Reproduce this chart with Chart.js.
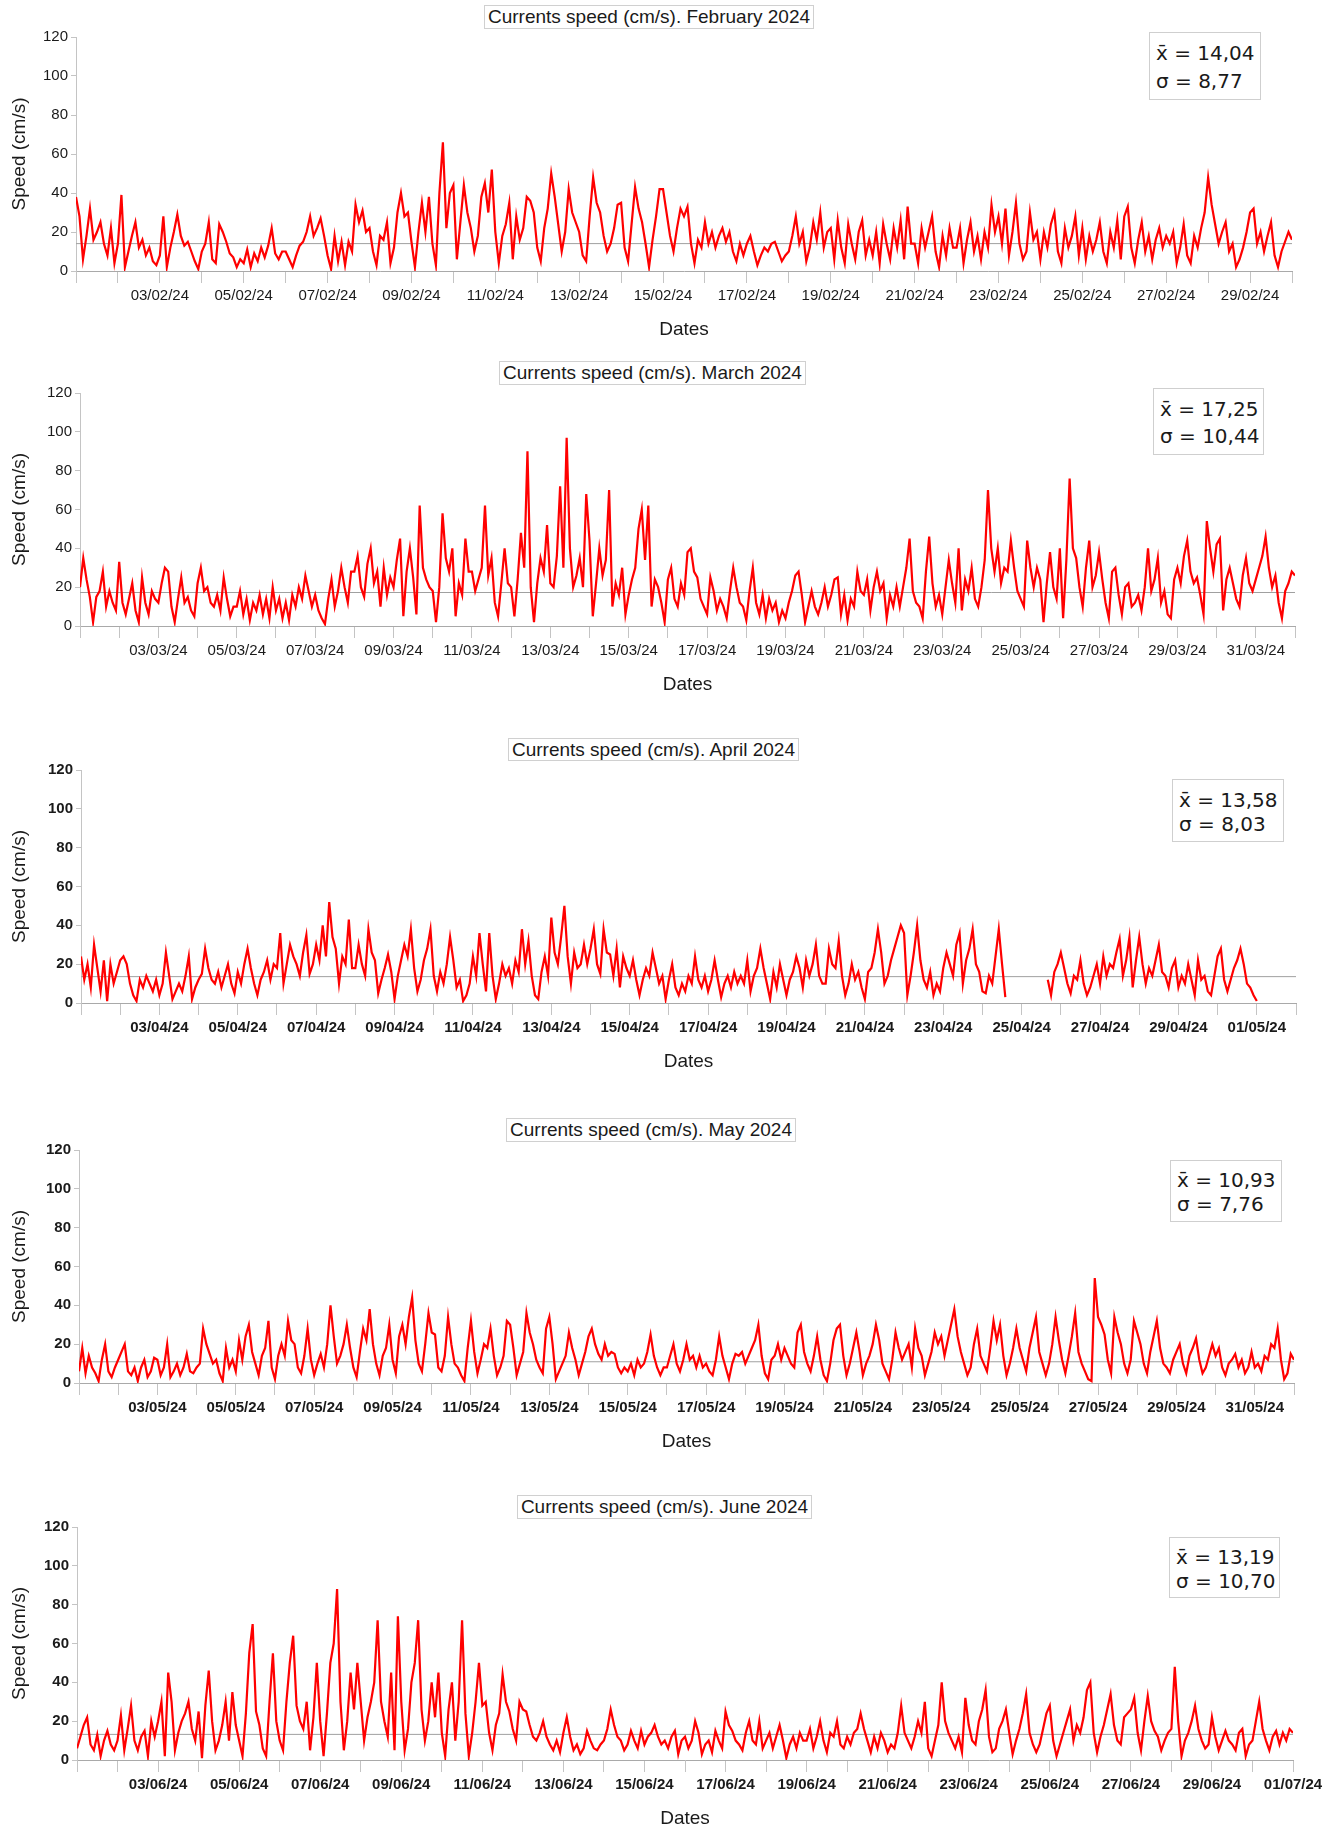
<!DOCTYPE html>
<html><head><meta charset="utf-8">
<script src="https://cdn.jsdelivr.net/npm/chart.js@4.4.1/dist/chart.umd.min.js"></script>
<style>
html,body{margin:0;padding:0;background:#fff;}
#wrap{position:relative;width:1339px;height:1829px;overflow:hidden;background:#fff;}
#wrap canvas{position:absolute;left:0;}
.ttl{position:absolute;box-sizing:border-box;border:1px solid #d0d0d0;font-family:"Liberation Sans",Arial,sans-serif;font-size:19px;color:#1a1a1a;text-align:center;white-space:nowrap;background:#fff;}
.stat{position:absolute;box-sizing:border-box;border:1px solid #cfcfcf;font-family:"DejaVu Sans",Verdana,sans-serif;font-size:20px;color:#1a1a1a;padding-left:6px;white-space:nowrap;background:#fff;}
</style></head><body><div id="wrap"></div>
<script>
// ---- Data: current speed (cm/s), one value every 2 hours (12 per day) ----
const febSpeed = [
38,28,6,18,32,16,20,25,14,8,22,4, 14,39,2,10,18,25,12,16,8,12,5,3, 8,28,2,12,20,29,18,13,15,10,5,1,
10,14,25,6,4,24,20,15,9,7,2,6, 4,11,2,9,5,12,7,13,22,9,6,10, 10,6,2,8,13,15,20,28,18,22,27,18,
8,1,18,5,15,3,15,10,34,25,31,20, 22,10,3,18,16,25,4,12,30,40,28,30, 15,2,20,35,20,38,14,3,40,66,22,40,
44,6,25,44,30,22,10,18,38,45,30,52, 20,4,18,24,35,6,28,16,22,38,36,30, 12,5,22,32,50,38,24,10,20,42,30,25,
20,8,5,28,48,35,30,18,10,14,22,34, 35,12,5,24,43,32,25,14,2,16,28,42, 42,30,18,10,22,32,28,33,14,4,16,12,
25,14,20,12,18,22,15,20,10,5,14,8, 14,18,10,3,8,12,10,14,15,10,5,8, 10,18,28,14,20,5,12,25,16,30,12,20,
22,6,26,12,4,24,14,6,20,26,8,16, 8,20,4,24,14,6,22,12,26,6,33,14, 14,4,22,12,20,28,10,2,18,8,22,12,
12,22,4,16,25,10,18,6,20,12,34,20, 28,14,32,8,20,35,14,6,10,30,16,20, 6,20,12,24,30,10,4,22,12,18,28,8,
22,6,18,10,16,25,10,4,20,12,26,6, 28,33,12,4,16,25,10,18,6,16,22,12, 18,14,20,4,12,24,8,4,18,12,22,30,
48,34,24,14,20,25,10,14,2,6,12,20, 30,32,14,20,10,18,25,8,2,10,15,20, 16];
const marSpeed = [
20,35,24,15,2,15,18,28,10,18,12,8, 33,12,6,14,22,8,2,25,12,6,18,14, 12,22,30,28,10,2,14,25,12,15,8,5,
22,30,18,20,12,10,16,8,25,14,5,10, 10,18,6,14,3,12,8,16,6,14,4,20, 8,14,4,12,3,16,10,20,14,26,18,10,
16,8,4,1,14,24,10,18,30,20,12,28, 28,36,20,15,32,40,22,28,10,30,16,25, 20,34,45,5,28,40,25,6,62,30,24,20,
18,2,20,58,35,28,40,5,22,16,45,28, 28,18,24,30,62,26,35,12,5,22,40,22, 20,5,24,48,30,90,20,2,22,35,28,52,
22,20,36,72,30,97,40,20,26,35,20,68, 44,5,22,40,26,34,70,10,22,16,30,6, 16,24,30,50,60,34,62,10,24,20,12,2,
24,30,14,10,22,16,38,40,28,25,14,10, 6,25,18,8,14,10,4,18,30,20,12,10, 3,18,30,12,6,16,4,14,8,12,2,8,
4,12,18,26,28,16,2,10,18,10,6,12, 20,10,16,24,25,6,16,3,14,10,28,18, 16,24,8,20,28,18,22,4,16,10,20,10,
20,30,45,18,12,10,4,28,46,22,10,16, 6,20,34,22,12,40,8,24,18,30,14,10, 20,34,70,40,28,40,22,30,28,44,30,18,
14,10,44,30,20,30,24,2,22,38,20,14, 40,4,34,76,40,35,20,10,30,44,20,26, 38,24,12,4,28,30,16,6,20,22,10,12,
16,8,20,40,18,24,35,12,18,6,4,24, 30,22,36,44,28,22,25,16,6,54,40,28, 42,45,8,24,30,22,14,10,26,35,22,18,
24,30,36,46,30,20,26,12,4,18,22,28, 26];
const aprSpeed = [
24,12,20,8,30,18,6,22,1,20,10,16, 22,24,20,10,4,1,12,8,14,10,6,12, 4,10,26,14,2,6,10,6,14,24,2,8,
12,15,28,18,12,10,16,8,14,20,10,5, 16,10,20,28,18,10,4,12,16,22,12,20, 18,36,10,20,30,24,20,14,26,35,15,20,
30,22,40,24,52,34,28,10,24,20,43,18, 18,30,20,14,38,26,22,5,12,18,25,16, 2,14,22,30,24,38,18,6,12,22,28,38,
14,6,16,10,20,34,22,8,12,1,4,10, 24,14,36,20,6,36,14,2,10,20,14,18, 10,22,16,38,20,32,14,4,2,16,24,14,
44,26,20,34,50,24,10,26,18,20,30,20, 28,38,20,15,38,26,25,14,28,8,24,18, 14,22,12,4,12,18,14,26,18,10,14,2,
12,20,8,4,10,6,14,10,24,12,8,14, 6,12,22,12,3,10,14,8,16,10,14,10, 22,6,14,18,28,18,10,2,16,8,20,12,
4,12,16,24,18,8,22,14,20,30,14,10, 10,28,20,18,32,14,4,10,20,12,16,8, 2,16,18,26,38,26,10,14,22,28,34,40,
36,4,14,26,40,22,12,8,16,4,10,6, 18,26,20,14,30,36,10,22,28,38,20,16, 6,5,14,10,24,38,20,3,null,null,null,null,
null,null,null,null,null,null,null,null,12,4,16,20, 26,18,10,5,14,12,22,10,4,8,14,20, 10,24,14,20,18,26,33,14,22,34,8,22,
34,20,10,18,14,22,30,16,14,8,18,22, 8,14,10,20,12,4,22,12,14,6,4,14, 24,28,12,6,12,18,22,28,20,10,8,4,
1];
const maySpeed = [
6,18,5,14,8,5,1,12,20,6,3,8, 12,16,20,6,4,8,1,8,12,3,6,13, 12,4,8,20,3,6,10,4,8,15,6,5,
8,10,28,20,15,10,12,5,1,18,8,12, 6,22,12,24,30,16,10,4,14,18,32,8, 2,14,20,14,32,22,20,8,5,14,28,12,
4,10,15,8,20,40,24,10,14,20,30,18, 8,3,16,28,22,38,20,10,4,14,18,30, 12,5,24,30,20,34,44,22,10,6,20,36,
26,25,8,6,14,34,20,10,8,4,1,18, 32,16,5,12,20,18,28,14,4,8,14,32, 30,18,4,10,16,36,26,20,12,8,5,28,
34,20,2,6,10,14,26,18,12,4,10,16, 24,28,20,15,12,20,14,16,15,8,5,8, 6,10,4,12,8,10,16,25,14,8,4,8,
8,14,20,10,6,12,20,12,14,8,14,8, 10,6,4,12,24,14,8,2,10,15,14,16, 10,14,18,22,30,14,5,2,12,14,20,12,
18,14,10,8,26,30,16,10,6,14,24,12, 4,1,10,22,28,30,14,4,10,18,26,16, 4,10,14,20,30,22,10,6,2,12,26,18,
12,16,20,8,28,18,14,4,10,16,26,20, 24,14,22,30,38,24,16,10,4,8,20,28, 14,10,6,18,32,22,30,14,4,10,18,28,
18,12,6,18,26,34,16,10,4,10,20,34, 22,12,5,14,24,36,16,10,6,2,1,54, 34,30,25,12,5,34,26,20,10,5,12,32,
26,20,10,5,16,24,32,18,10,8,5,12, 16,20,10,5,14,18,23,12,5,8,14,20, 14,18,8,4,10,12,15,8,12,5,8,16,
8,10,6,14,12,20,18,28,12,2,5,15, 12];
const junSpeed = [
6,12,18,22,8,5,13,2,10,15,8,5, 10,23,5,16,28,10,5,12,15,2,20,12, 20,30,2,45,30,5,14,20,24,30,16,10,
25,1,28,46,20,5,10,18,30,10,35,18, 10,2,24,55,70,25,18,6,2,30,55,20, 10,5,30,50,64,28,20,16,30,5,22,50,
20,2,24,50,60,88,30,5,20,45,26,50, 30,10,22,30,40,72,30,20,12,45,5,74, 30,5,16,40,50,72,26,10,20,40,22,45,
14,2,26,40,10,30,72,24,2,14,30,50, 28,30,14,5,18,24,44,30,25,16,10,30, 26,25,18,12,10,14,20,12,8,5,10,4,
14,22,12,5,8,3,6,15,10,6,5,8, 10,16,26,18,12,10,5,8,15,10,6,15, 8,12,14,18,12,8,10,6,12,15,3,10,
12,6,10,20,14,3,8,10,4,15,10,6, 25,18,15,10,8,5,14,20,10,8,20,6, 10,14,6,12,18,10,1,8,12,6,14,10,
10,16,6,12,20,10,4,14,12,20,8,6, 12,8,14,16,24,16,10,4,12,6,14,10, 4,8,6,14,28,14,10,6,12,20,14,30,
6,2,10,18,40,20,14,10,6,12,4,32, 18,10,8,20,26,36,12,4,6,16,20,26, 14,3,10,16,24,34,14,8,4,8,16,24,
28,10,2,8,14,20,26,10,18,14,22,36, 40,14,4,12,18,26,34,18,10,8,22,24, 26,32,14,5,20,33,20,15,12,5,10,14,
16,48,20,2,10,14,20,28,16,10,6,8, 22,12,5,10,15,10,8,5,14,16,2,8, 10,20,30,16,10,5,12,15,8,14,10,16,
14];

// ---- Tick labels (every second day, starting on day 3) ----
const febTicks = ['03/02/24','05/02/24','07/02/24','09/02/24','11/02/24','13/02/24','15/02/24','17/02/24','19/02/24','21/02/24','23/02/24','25/02/24','27/02/24','29/02/24'];
const marTicks = ['03/03/24','05/03/24','07/03/24','09/03/24','11/03/24','13/03/24','15/03/24','17/03/24','19/03/24','21/03/24','23/03/24','25/03/24','27/03/24','29/03/24','31/03/24'];
const aprTicks = ['03/04/24','05/04/24','07/04/24','09/04/24','11/04/24','13/04/24','15/04/24','17/04/24','19/04/24','21/04/24','23/04/24','25/04/24','27/04/24','29/04/24','01/05/24'];
const mayTicks = ['03/05/24','05/05/24','07/05/24','09/05/24','11/05/24','13/05/24','15/05/24','17/05/24','19/05/24','21/05/24','23/05/24','25/05/24','27/05/24','29/05/24','31/05/24'];
const junTicks = ['03/06/24','05/06/24','07/06/24','09/06/24','11/06/24','13/06/24','15/06/24','17/06/24','19/06/24','21/06/24','23/06/24','25/06/24','27/06/24','29/06/24','01/07/24'];

// ---- Statistics ----
const titles = ['Currents speed (cm/s). February 2024','Currents speed (cm/s). March 2024','Currents speed (cm/s). April 2024','Currents speed (cm/s). May 2024','Currents speed (cm/s). June 2024'];
const means = [14.04, 17.25, 13.58, 10.93, 13.19];
const sds = [8.77, 10.44, 8.03, 7.76, 10.70];
const axisDays = [29, 31, 31, 31, 30];
const PER_DAY = 12;

// ---- Layout (pixels) ----
const layouts = [
  {L:76, R:1292, T:37,   B:271,  bold:false, tb:[484,5,330,24],    sb:[1149,32,112,68,28,7]},
  {L:80, R:1295, T:393,  B:626,  bold:false, tb:[499,361,307,24],  sb:[1153,388,111,67,27,8]},
  {L:81, R:1296, T:770,  B:1003, bold:true,  tb:[508,738,291,23],  sb:[1172,779,112,63,24,9]},
  {L:79, R:1294, T:1150, B:1383, bold:true,  tb:[506,1118,290,24], sb:[1170,1160,112,62,24,8]},
  {L:77, R:1293, T:1527, B:1760, bold:true,  tb:[517,1495,295,24], sb:[1169,1537,111,61,24,8]}
];
const series = [febSpeed, marSpeed, aprSpeed, maySpeed, junSpeed];
const tickSets = [febTicks, marTicks, aprTicks, mayTicks, junTicks];

const wrap = document.getElementById('wrap');
const FONT = '"Liberation Sans", Arial, sans-serif';
const PT = 12, XH = 75;
const fmt = v => v.toFixed(2).replace('.', ',');

series.forEach((vals, i) => {
  const lay = layouts[i];
  const days = axisDays[i];
  const labels = tickSets[i];
  const cv = document.createElement('canvas');
  const h = PT + (lay.B - lay.T) + XH;
  cv.width = 1339; cv.height = h;
  cv.style.width = '1339px'; cv.style.height = h + 'px';
  cv.style.top = (lay.T - PT) + 'px';
  wrap.appendChild(cv);

  const pts = vals.map((v, k) => ({x: k / PER_DAY, y: v}));
  const weight = lay.bold ? 'bold' : 'normal';

  new Chart(cv, {
    type: 'line',
    data: {datasets: [
      {data: pts, borderColor: '#ff0000', borderWidth: 2.2, pointRadius: 0, tension: 0, spanGaps: false, order: 1},
      {data: [{x: 0, y: means[i]}, {x: days, y: means[i]}], borderColor: '#a0a0a0', borderWidth: 1, pointRadius: 0, order: 2}
    ]},
    options: {
      responsive: false, animation: false, events: [],
      layout: {padding: {top: PT, left: 0, right: 1339 - lay.R, bottom: 0}},
      plugins: {legend: {display: false}, tooltip: {enabled: false}, title: {display: false}},
      scales: {
        x: {
          type: 'linear', min: 0, max: days,
          afterFit: s => { s.height = XH; },
          afterBuildTicks: s => { s.ticks = Array.from({length: days + 1}, (_, v) => ({value: v})); },
          ticks: {autoSkip: false, maxRotation: 0, minRotation: 0, padding: 4, color: '#1a1a1a',
            font: {family: FONT, size: 15, weight: weight},
            callback: v => { const k = Math.round(v); return (k >= 2 && k % 2 === 0) ? (labels[(k - 2) / 2] || '') : ''; }},
          grid: {drawOnChartArea: false, drawTicks: true, tickLength: 12, color: '#c4c4c4'},
          border: {color: '#a9a9a9'},
          title: {display: true, text: 'Dates', color: '#1a1a1a', font: {family: FONT, size: 19}, padding: {top: 0, bottom: 5}}
        },
        y: {
          min: 0, max: 120,
          afterFit: s => { s.width = lay.L; },
          ticks: {stepSize: 20, padding: 3, color: '#1a1a1a', font: {family: FONT, size: 15, weight: weight}},
          grid: {drawOnChartArea: false, drawTicks: true, tickLength: 5, color: '#c4c4c4'},
          border: {color: '#c4c4c4'},
          title: {display: true, text: 'Speed (cm/s)', color: '#1a1a1a', font: {family: FONT, size: 19}, padding: {top: 8, bottom: 0}}
        }
      }
    }
  });

  const t = document.createElement('div');
  t.className = 'ttl';
  t.textContent = titles[i];
  const [tx, ty, tw, th] = lay.tb;
  Object.assign(t.style, {left: tx + 'px', top: ty + 'px', width: tw + 'px', height: th + 'px', lineHeight: (th - 2) + 'px'});
  wrap.appendChild(t);

  const s = document.createElement('div');
  s.className = 'stat';
  const [sx, sy, sw, sh, lh, pt] = lay.sb;
  Object.assign(s.style, {left: sx + 'px', top: sy + 'px', width: sw + 'px', height: sh + 'px', lineHeight: lh + 'px', paddingTop: (pt - 1) + 'px'});
  const l1 = document.createElement('div'); l1.textContent = 'x\u0304 = ' + fmt(means[i]);
  const l2 = document.createElement('div'); l2.textContent = '\u03c3 = ' + fmt(sds[i]);
  s.appendChild(l1); s.appendChild(l2);
  wrap.appendChild(s);
});
</script>
</body></html>
